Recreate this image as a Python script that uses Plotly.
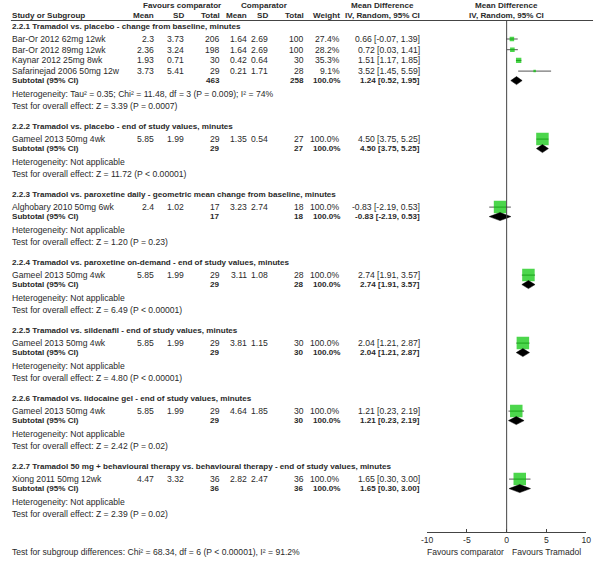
import plotly.graph_objects as go

# ---------------- data ----------------
group_titles = [
    "2.2.1 Tramadol vs. placebo - change from baseline, minutes",
    "2.2.2 Tramadol vs. placebo - end of study values, minutes",
    "2.2.3 Tramadol vs. paroxetine daily - geometric mean change from baseline, minutes",
    "2.2.4 Tramadol vs. paroxetine on-demand - end of study values, minutes",
    "2.2.5 Tramadol vs. sildenafil - end of study values, minutes",
    "2.2.6 Tramadol vs. lidocaine gel - end of study values, minutes",
    "2.2.7 Tramadol 50 mg + behavioural therapy vs. behavioural therapy - end of study values, minutes",
]
study_group = [0, 0, 0, 0, 1, 2, 3, 4, 5, 6]
study_names = [
    "Bar-Or 2012 62mg 12wk", "Bar-Or 2012 89mg 12wk", "Kaynar 2012 25mg 8wk",
    "Safarinejad 2006 50mg 12w", "Gameel 2013 50mg 4wk", "Alghobary 2010 50mg 6wk",
    "Gameel 2013 50mg 4wk", "Gameel 2013 50mg 4wk", "Gameel 2013 50mg 4wk",
    "Xiong 2011 50mg 12wk",
]
exp_mean = [2.3, 2.36, 1.93, 3.73, 5.85, 2.4, 5.85, 5.85, 5.85, 4.47]
exp_sd = [3.73, 3.24, 0.71, 5.41, 1.99, 1.02, 1.99, 1.99, 1.99, 3.32]
exp_total = [206, 198, 30, 29, 29, 17, 29, 29, 29, 36]
ctl_mean = [1.64, 1.64, 0.42, 0.21, 1.35, 3.23, 3.11, 3.81, 4.64, 2.82]
ctl_sd = [2.69, 2.69, 0.64, 1.71, 0.54, 2.74, 1.08, 1.15, 1.85, 2.47]
ctl_total = [100, 100, 30, 28, 27, 18, 28, 30, 30, 36]
weights = [27.4, 28.2, 35.3, 9.1, 100.0, 100.0, 100.0, 100.0, 100.0, 100.0]
md = [0.66, 0.72, 1.51, 3.52, 4.50, -0.83, 2.74, 2.04, 1.21, 1.65]
md_lo = [-0.07, 0.03, 1.17, 1.45, 3.75, -2.19, 1.91, 1.21, 0.23, 0.30]
md_hi = [1.39, 1.41, 1.85, 5.59, 5.25, 0.53, 3.57, 2.87, 2.19, 3.00]

sub_exp_total = [463, 29, 17, 29, 29, 29, 36]
sub_ctl_total = [258, 27, 18, 28, 30, 30, 36]
sub_md = [1.24, 4.50, -0.83, 2.74, 2.04, 1.21, 1.65]
sub_lo = [0.52, 3.75, -2.19, 1.91, 1.21, 0.23, 0.30]
sub_hi = [1.95, 5.25, 0.53, 3.57, 2.87, 2.19, 3.00]
heterogeneity = [
    "Heterogeneity: Tau² = 0.35; Chi² = 11.48, df = 3 (P = 0.009); I² = 74%",
    "Heterogeneity: Not applicable", "Heterogeneity: Not applicable",
    "Heterogeneity: Not applicable", "Heterogeneity: Not applicable",
    "Heterogeneity: Not applicable", "Heterogeneity: Not applicable",
]
overall = [
    "Test for overall effect: Z = 3.39 (P = 0.0007)",
    "Test for overall effect: Z = 11.72 (P < 0.00001)",
    "Test for overall effect: Z = 1.20 (P = 0.23)",
    "Test for overall effect: Z = 6.49 (P < 0.00001)",
    "Test for overall effect: Z = 4.80 (P < 0.00001)",
    "Test for overall effect: Z = 2.42 (P = 0.02)",
    "Test for overall effect: Z = 2.39 (P = 0.02)",
]
subgroup_test = "Test for subgroup differences: Chi² = 68.34, df = 6 (P < 0.00001), I² = 91.2%"
tick_vals = [-10, -5, 0, 5, 10]
tick_text = ["-10", "-5", "0", "5", "10"]
favours_left = "Favours comparator"
favours_right = "Favours Tramadol"

# ---------------- layout ----------------
W, H = 600, 561
FONT = "Liberation Sans, Arial, sans-serif"
FS = 8.6
FSB = 8.1
TXT = "#2a2a2a"
GREEN = "#00c400"

# column right edges (px)
col_x = {"em": 152, "es": 182, "et": 219, "cm": 247, "cs": 268, "ct": 305, "w": 341, "ci": 423}
name_x = 5

# row positions (pixel rows, top-down)
hdr_y, study_y, sub_y, het_y, test_y = [], [], [], [], []
y = 26.5
for g in range(len(group_titles)):
    hdr_y.append(y)
    y += 12.5
    idx = [i for i, sg in enumerate(study_group) if sg == g]
    for k, i in enumerate(idx):
        if k > 0:
            y += 10.7
        study_y.append(y)
    y += 9.5
    sub_y.append(y)
    y += 13.5
    het_y.append(y)
    y += 11.5
    test_y.append(y)
    y += 21

axis_y = 532
header_line_y = 20.5

ann = []


def txt(x, yy, s, anchor="left", bold=False):
    ann.append(dict(
        x=x / W, xref="paper", y=yy, yref="y", text=("<b>%s</b>" % s) if bold else s,
        showarrow=False, xanchor=anchor, yanchor="middle", borderpad=0,
        font=dict(family=FONT, size=FSB if bold else FS, color=TXT)))


def fmt(v):
    return f"{v:g}"


# headers
txt(179.5, 5, "Favours comparator", "center", True)
txt(263, 5, "Comparator", "center", True)
txt(384, 5, "Mean Difference", "center", True)
txt(510, 5, "Mean Difference", "center", True)
txt(name_x, 15.5, "Study or Subgroup", "left", True)
for key, lab in [("em", "Mean"), ("es", "SD"), ("et", "Total"), ("cm", "Mean"),
                 ("cs", "SD"), ("ct", "Total"), ("w", "Weight")]:
    txt(col_x[key], 15.5, lab, "right", True)
txt(384, 15.5, "IV, Random, 95% CI", "center", True)
txt(510, 15.5, "IV, Random, 95% CI", "center", True)

for g, title in enumerate(group_titles):
    txt(name_x, hdr_y[g], title, "left", True)
    txt(name_x, sub_y[g], "Subtotal (95% CI)", "left", True)
    txt(col_x["et"], sub_y[g], str(sub_exp_total[g]), "right", True)
    txt(col_x["ct"], sub_y[g], str(sub_ctl_total[g]), "right", True)
    txt(col_x["w"], sub_y[g], "100.0%", "right", True)
    txt(col_x["ci"], sub_y[g], f"{sub_md[g]:.2f} [{sub_lo[g]:.2f}, {sub_hi[g]:.2f}]", "right", True)
    txt(name_x, het_y[g], heterogeneity[g])
    txt(name_x, test_y[g], overall[g])

for i, nm in enumerate(study_names):
    yy = study_y[i]
    txt(name_x, yy, nm)
    txt(col_x["em"], yy, fmt(exp_mean[i]), "right")
    txt(col_x["es"], yy, fmt(exp_sd[i]), "right")
    txt(col_x["et"], yy, str(exp_total[i]), "right")
    txt(col_x["cm"], yy, fmt(ctl_mean[i]), "right")
    txt(col_x["cs"], yy, fmt(ctl_sd[i]), "right")
    txt(col_x["ct"], yy, str(ctl_total[i]), "right")
    txt(col_x["w"], yy, f"{weights[i]:.1f}%", "right")
    txt(col_x["ci"], yy, f"{md[i]:.2f} [{md_lo[i]:.2f}, {md_hi[i]:.2f}]", "right")

txt(name_x, 552, subgroup_test)

# favours labels under the axis
for label, anchor, shift in [(favours_left, "right", -2), (favours_right, "left", 4)]:
    ann.append(dict(x=0, xref="x", y=551.5, yref="y", text=label, showarrow=False,
                    xanchor=anchor, yanchor="middle", xshift=shift, borderpad=0,
                    font=dict(family=FONT, size=FS, color=TXT)))

fig = go.Figure()

# CI lines
lx, ly = [], []
for i in range(len(md)):
    lx += [md_lo[i], md_hi[i], None]
    ly += [study_y[i], study_y[i], None]
fig.add_trace(go.Scatter(x=lx, y=ly, mode="lines", line=dict(color="#555555", width=1),
                         hoverinfo="skip", showlegend=False))

# squares (side grows with weight)
fig.add_trace(go.Scatter(
    x=md, y=study_y, mode="markers",
    marker=dict(symbol="square", color=GREEN, size=[1.5 + 11 * w / 100 for w in weights],
                line=dict(width=0)),
    hoverinfo="skip", showlegend=False))

# diamonds for subtotals
dh = 4
for g in range(len(sub_md)):
    yy = sub_y[g]
    fig.add_trace(go.Scatter(
        x=[sub_lo[g], sub_md[g], sub_hi[g], sub_md[g], sub_lo[g]],
        y=[yy, yy - dh, yy, yy + dh, yy], mode="lines", fill="toself",
        fillcolor="black", line=dict(color="black", width=0.5),
        hoverinfo="skip", showlegend=False))

shapes = [
    dict(type="line", xref="paper", yref="y", x0=5 / W, x1=598 / W, y0=header_line_y,
         y1=header_line_y, line=dict(color="#444444", width=1)),
    dict(type="line", xref="x", yref="y", x0=0, x1=0, y0=header_line_y, y1=axis_y,
         line=dict(color="#444444", width=1)),
]

fig.update_layout(
    width=W, height=H, margin=dict(l=0, r=0, t=0, b=0),
    paper_bgcolor="white", plot_bgcolor="white",
    showlegend=False, annotations=ann, shapes=shapes,
    xaxis=dict(domain=[429 / W, 591 / W], range=[-10, 10], anchor="free",
               position=(H - axis_y) / H, showline=True, linecolor="#444444", linewidth=1,
               ticks="inside", ticklen=3, tickcolor="#444444", tickvals=tick_vals,
               ticktext=tick_text, tickfont=dict(family=FONT, size=FS, color=TXT),
               showgrid=False, zeroline=False, fixedrange=True),
    yaxis=dict(domain=[0, 1], range=[H, 0], visible=False, showgrid=False,
               zeroline=False, fixedrange=True),
)

fig.write_html(
    "out.html",
    config={"displayModeBar": False},
    post_script="document.body.style.margin='0px';document.body.style.padding='0px';",
)
